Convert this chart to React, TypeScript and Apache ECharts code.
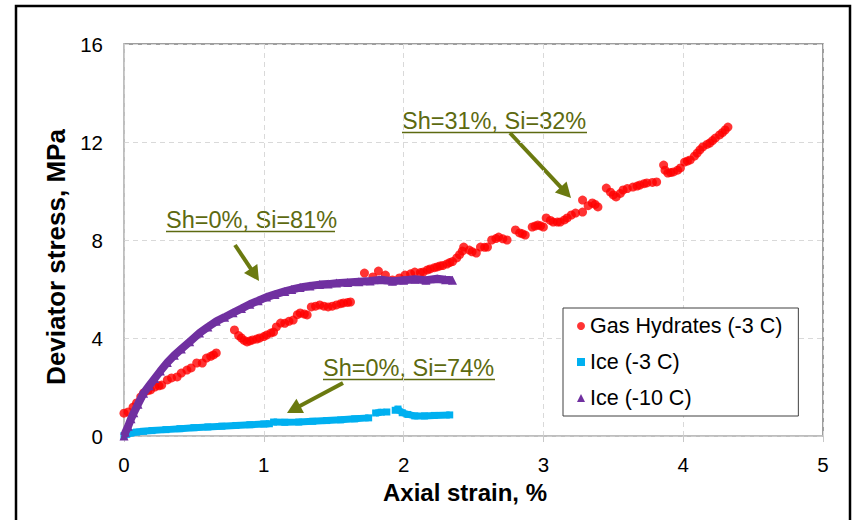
import React, { useEffect, useRef } from "react";
import * as echarts from "echarts";

// Axial strain (%) vs deviator stress (MPa)
const seriesNames = ["Gas Hydrates (-3 C)", "Ice (-3 C)", "Ice (-10 C)"];

const gasHydrates: [number, number][] = [
  [0.0, 0.93], [0.03, 0.98], [0.065, 1.18], [0.09, 1.35], [0.12, 1.6], [0.14, 1.76], [0.17, 1.85],
  [0.19, 1.88], [0.22, 2.0], [0.25, 2.05], [0.27, 2.08], [0.31, 2.29], [0.34, 2.37], [0.38, 2.41],
  [0.41, 2.57], [0.45, 2.69], [0.48, 2.78], [0.52, 2.98], [0.56, 2.98], [0.59, 3.18], [0.62, 3.25],
  [0.64, 3.31], [0.66, 3.39],
  [0.79, 4.33], [0.82, 4.1], [0.84, 4.0], [0.86, 3.9], [0.88, 3.84], [0.9, 3.88], [0.92, 3.92],
  [0.95, 3.96], [0.97, 4.0], [1.0, 4.06], [1.02, 4.12], [1.05, 4.2], [1.07, 4.24], [1.09, 4.45],
  [1.12, 4.61], [1.15, 4.6], [1.18, 4.68], [1.21, 4.73], [1.24, 4.95], [1.26, 5.02], [1.29, 4.98],
  [1.31, 4.94], [1.34, 5.27], [1.37, 5.3], [1.4, 5.35], [1.43, 5.3], [1.46, 5.27], [1.49, 5.3],
  [1.52, 5.35], [1.55, 5.4], [1.57, 5.43], [1.6, 5.45], [1.62, 5.47],
  [1.72, 6.65], [1.78, 6.49], [1.82, 6.73], [1.87, 6.57], [1.92, 6.37], [1.97, 6.45], [2.01, 6.57],
  [2.05, 6.62], [2.08, 6.69], [2.12, 6.67], [2.14, 6.69], [2.17, 6.78], [2.19, 6.82], [2.22, 6.87],
  [2.24, 6.9], [2.26, 6.94], [2.28, 6.96], [2.31, 7.02], [2.33, 7.08], [2.35, 7.12], [2.38, 7.27],
  [2.4, 7.4], [2.42, 7.55], [2.43, 7.71], [2.47, 7.59], [2.49, 7.52], [2.52, 7.47], [2.55, 7.71],
  [2.58, 7.7], [2.6, 7.71],
  [2.63, 8.0], [2.66, 8.06], [2.68, 8.12], [2.71, 8.05], [2.74, 8.0], [2.8, 8.41], [2.83, 8.29],
  [2.85, 8.25], [2.87, 8.2], [2.92, 8.53], [2.94, 8.57], [2.96, 8.61], [2.98, 8.58], [3.0, 8.53],
  [3.02, 8.9], [3.05, 8.8], [3.07, 8.73], [3.1, 8.73], [3.12, 8.73], [3.15, 8.82], [3.17, 8.9],
  [3.2, 9.02], [3.23, 9.1], [3.28, 9.63], [3.28, 9.14], [3.32, 9.4], [3.35, 9.51], [3.37, 9.45],
  [3.39, 9.35], [3.45, 10.12], [3.48, 9.95], [3.5, 9.84], [3.52, 9.76], [3.55, 9.9], [3.57, 10.04],
  [3.6, 10.1], [3.64, 10.16], [3.67, 10.2], [3.69, 10.24], [3.72, 10.3], [3.74, 10.33], [3.78, 10.35],
  [3.81, 10.37], [3.86, 11.06], [3.87, 10.85], [3.89, 10.73], [3.91, 10.75], [3.93, 10.78],
  [3.96, 10.85], [3.98, 10.94], [4.01, 11.18], [4.03, 11.22], [4.05, 11.27], [4.08, 11.42],
  [4.1, 11.55], [4.12, 11.68], [4.14, 11.8], [4.17, 11.9], [4.19, 11.96], [4.21, 12.06],
  [4.23, 12.16], [4.26, 12.29], [4.28, 12.38], [4.3, 12.49], [4.32, 12.61],
];

// "-" marks a break in the trace
const iceMinus3: [number, number | string][] = [
  [0.0, 0.02], [0.02, 0.07], [0.05, 0.12], [0.09, 0.16], [0.14, 0.19], [0.2, 0.22], [0.3, 0.26],
  [0.4, 0.3], [0.5, 0.34], [0.6, 0.37], [0.7, 0.4], [0.8, 0.43], [0.9, 0.46], [1.0, 0.49], [1.04, 0.5],
  [1.05, "-"],
  [1.07, 0.57], [1.15, 0.56], [1.25, 0.57], [1.35, 0.6], [1.45, 0.63], [1.55, 0.66], [1.65, 0.7],
  [1.75, 0.74],
  [1.77, "-"],
  [1.8, 0.94], [1.84, 0.97],
  [1.86, "-"],
  [1.88, 0.98],
  [1.9, "-"],
  [1.94, 1.05], [1.96, 1.1], [1.99, 0.95], [2.03, 0.88], [2.08, 0.82], [2.15, 0.82], [2.22, 0.84],
  [2.33, 0.86],
];

const iceMinus10: [number, number][] = [
  [0.0, 0.0], [0.01, 0.15], [0.03, 0.4], [0.05, 0.7], [0.07, 0.95], [0.1, 1.3], [0.14, 1.75],
  [0.18, 2.05], [0.22, 2.35], [0.26, 2.65], [0.31, 3.0], [0.36, 3.3], [0.41, 3.55], [0.47, 3.85],
  [0.54, 4.2], [0.6, 4.45], [0.66, 4.68], [0.72, 4.85], [0.78, 5.03], [0.84, 5.2], [0.9, 5.38],
  [0.96, 5.52], [1.02, 5.67], [1.08, 5.78], [1.15, 5.9], [1.2, 5.98], [1.26, 6.06], [1.33, 6.12],
  [1.4, 6.18], [1.46, 6.2], [1.52, 6.24], [1.6, 6.27], [1.68, 6.3], [1.76, 6.33], [1.84, 6.38],
  [1.92, 6.32], [2.0, 6.36], [2.08, 6.4], [2.16, 6.36], [2.24, 6.42], [2.3, 6.38], [2.35, 6.36],
];

const annotationTexts = ["Sh=31%, Si=32%", "Sh=0%, Si=81%", "Sh=0%, Si=74%"];
const xAxisTitle = "Axial strain, %";
const yAxisTitle = "Deviator stress, MPa";

const FONT = '"Liberation Sans", Arial, sans-serif';
const OLIVE_TEXT = "#5d6a10";
const OLIVE_ARROW = "#6b7a10";

function arrow(x1: number, y1: number, x2: number, y2: number) {
  const dx = x2 - x1;
  const dy = y2 - y1;
  const len = Math.sqrt(dx * dx + dy * dy);
  const ux = dx / len;
  const uy = dy / len;
  const headLen = 15;
  const headHalf = 8;
  const bx = x2 - ux * headLen;
  const by = y2 - uy * headLen;
  return [
    {
      type: "line",
      shape: { x1, y1, x2: bx + ux * 2, y2: by + uy * 2 },
      style: { stroke: OLIVE_ARROW, lineWidth: 4 },
    },
    {
      type: "polygon",
      shape: {
        points: [
          [x2, y2],
          [bx - uy * headHalf, by + ux * headHalf],
          [bx + uy * headHalf, by - ux * headHalf],
        ],
      },
      style: { fill: OLIVE_ARROW },
    },
  ];
}

function label(text: string, left: number, baseline: number, right: number) {
  return [
    {
      type: "text",
      x: left,
      y: baseline - 8,
      style: {
        text,
        fill: OLIVE_TEXT,
        font: `23.5px ${FONT}`,
        align: "left",
        verticalAlign: "middle",
        textAlign: "left",
        textVerticalAlign: "middle",
      },
    },
    {
      type: "line",
      shape: { x1: left, y1: baseline + 3.5, x2: right, y2: baseline + 3.5 },
      style: { stroke: OLIVE_TEXT, lineWidth: 1.5 },
    },
  ];
}

export default function App() {
  const ref = useRef<HTMLDivElement>(null);

  useEffect(() => {
    if (!ref.current) return;
    const chart = echarts.init(ref.current, undefined, { renderer: "svg" });

    const option: any = {
      animation: false,
      backgroundColor: "#ffffff",
      grid: {
        left: 124,
        top: 44,
        width: 699,
        height: 392,
        show: true,
        borderColor: "#7f7f7f",
        borderWidth: 1.5,
        backgroundColor: "transparent",
      },
      xAxis: {
        type: "value",
        min: 0,
        max: 5,
        interval: 1,
        axisLine: { show: true, lineStyle: { color: "#c8c8c8", width: 1.5 } },
        axisTick: { show: true, inside: false, length: 6, lineStyle: { color: "#c8c8c8" } },
        axisLabel: { color: "#000", fontSize: 20.5, fontFamily: FONT, margin: 18 },
        splitLine: { show: true, lineStyle: { color: "#d9d9d9", type: [5, 4], width: 1 } },
      },
      yAxis: {
        type: "value",
        min: 0,
        max: 16,
        interval: 4,
        axisLine: { show: true, lineStyle: { color: "#c8c8c8", width: 1.5 } },
        axisTick: { show: false },
        axisLabel: { color: "#000", fontSize: 20.5, fontFamily: FONT, margin: 21 },
        splitLine: { show: true, lineStyle: { color: "#d9d9d9", type: [5, 4], width: 1 } },
      },
      legend: {
        orient: "vertical",
        left: 563,
        top: 308,
        padding: [7, 16, 7, 14],
        itemGap: 14,
        itemWidth: 8,
        itemHeight: 8,
        borderColor: "#404040",
        borderWidth: 1,
        backgroundColor: "#ffffff",
        textStyle: { fontSize: 21.5, fontFamily: FONT, color: "#000", lineHeight: 22 },
        data: [
          { name: seriesNames[0], icon: "circle" },
          { name: seriesNames[1], icon: "rect" },
          { name: seriesNames[2], icon: "triangle" },
        ],
      },
      series: [
        {
          name: seriesNames[0],
          type: "scatter",
          data: gasHydrates,
          symbol: "circle",
          symbolSize: 9,
          itemStyle: { color: "#ff0000" },
          z: 2,
        },
        {
          name: seriesNames[1],
          type: "line",
          data: iceMinus3,
          connectNulls: false,
          symbol: "rect",
          symbolSize: 7,
          showSymbol: true,
          color: "#00b0f0",
          itemStyle: { color: "#00b0f0" },
          lineStyle: { color: "#00b0f0", width: 7 },
          z: 3,
        },
        {
          name: seriesNames[2],
          type: "line",
          data: iceMinus10,
          symbol: "triangle",
          symbolSize: 9,
          showSymbol: true,
          color: "#7030a0",
          itemStyle: { color: "#7030a0" },
          lineStyle: { color: "#7030a0", width: 8 },
          z: 4,
        },
      ],
      graphic: [
        {
          type: "rect",
          shape: { x: 16, y: 6, width: 834, height: 530 },
          style: { fill: "none", stroke: "#000", lineWidth: 2.5 },
          silent: true,
        },
        {
          type: "text",
          x: 465,
          y: 492,
          style: {
            text: xAxisTitle,
            font: `bold 24px ${FONT}`,
            fill: "#000",
            align: "center",
            verticalAlign: "middle",
            textAlign: "center",
            textVerticalAlign: "middle",
          },
        },
        {
          type: "text",
          x: 56,
          y: 257,
          rotation: Math.PI / 2,
          style: {
            text: yAxisTitle,
            font: `bold 26px ${FONT}`,
            fill: "#000",
            align: "center",
            verticalAlign: "middle",
            textAlign: "center",
            textVerticalAlign: "middle",
          },
        },
        ...label(annotationTexts[0], 402, 129, 587),
        ...arrow(510, 133, 571, 198),
        ...label(annotationTexts[1], 166, 228, 335),
        ...arrow(235, 245, 259, 281),
        ...label(annotationTexts[2], 323, 376, 495),
        ...arrow(343, 383, 287, 413),
      ],
    };

    chart.setOption(option);
    return () => chart.dispose();
  }, []);

  return (
    <div
      ref={ref}
      style={{ position: "absolute", left: 0, top: 0, width: 852, height: 520 }}
    />
  );
}
